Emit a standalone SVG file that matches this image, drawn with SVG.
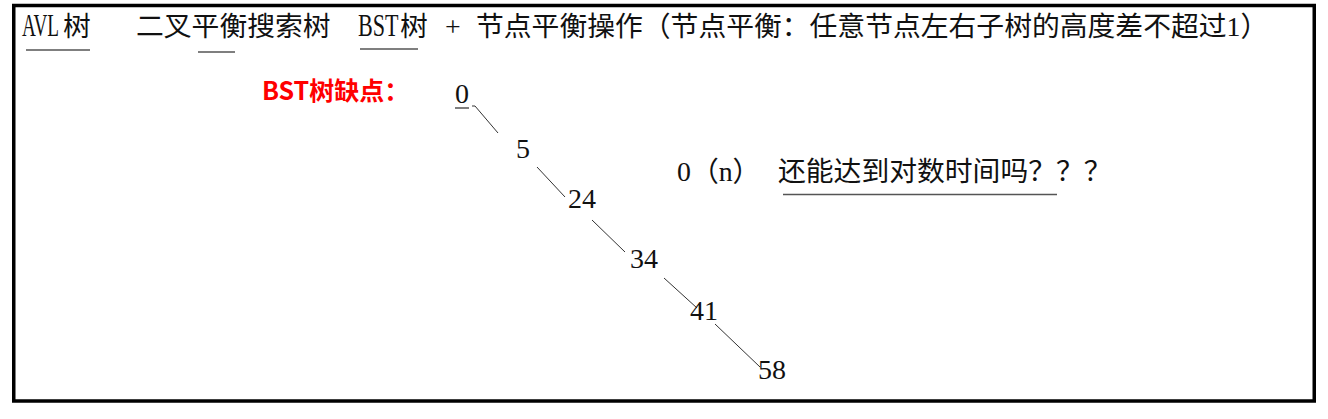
<svg xmlns="http://www.w3.org/2000/svg" width="1328" height="419" viewBox="0 0 1328 419">
<style>
.t{font-family:'Liberation Serif','Noto Sans CJK SC',serif;font-size:27.8px;fill:#111}
.lat{font-family:'Liberation Serif',serif;font-size:32px;fill:#111}
.n{font-family:'Liberation Serif','Noto Sans CJK SC',serif;font-size:28px;fill:#111}
.red{font-family:'Noto Sans CJK SC','Noto Sans',sans-serif;font-size:25px;font-weight:bold;fill:#ff0000}
.ul{stroke:#555;stroke-width:1.5;fill:none}
.edge{stroke:#333;stroke-width:1;fill:none}
</style>
<rect x="0" y="0" width="1328" height="419" fill="#fff"/>
<rect x="13.75" y="5.5" width="1300.5" height="395.5" fill="none" stroke="#000" stroke-width="3.5"/>
<g id="header">
<text class="lat" transform="translate(22,36) scale(0.6,1)">AVL</text>
<text class="t" x="63" y="36">树</text>
<text class="t" x="136" y="36">二叉平衡搜索树</text>
<text class="lat" transform="translate(358,36) scale(0.69,1)">BST</text>
<text class="t" x="400" y="36">树</text>
<text class="t" x="445" y="36">+</text>
<text class="t" x="476" y="36">节点平衡操作（节点平衡：任意节点左右子树的高度差不超过1）</text>
<line class="ul" x1="26" y1="50" x2="90" y2="50"/>
<line class="ul" x1="198" y1="52" x2="235" y2="52"/>
<line class="ul" x1="360" y1="49" x2="418" y2="49"/>
</g>
<g id="label-bst">
<text class="red" x="262" y="100">BST树缺点：</text>
</g>
<g id="question">
<text class="t" x="677" y="181">0（n）</text>
<text class="t" x="778" y="181">还能达到对数时间吗？？？</text>
<line class="ul" x1="783" y1="194.5" x2="1057" y2="194.5"/>
</g>
<g id="connectors">
<polyline class="edge" points="472,106 475,106 498,133"/>
<line class="edge" x1="537" y1="167" x2="565" y2="197"/>
<line class="edge" x1="592" y1="220" x2="625" y2="252"/>
<line class="edge" x1="664" y1="278" x2="697" y2="308"/>
<line class="edge" x1="715" y1="324" x2="760" y2="367"/>
</g>
<g id="node-0"><text class="n" x="455" y="103">0</text><line class="ul" x1="455" y1="108" x2="469" y2="108"/></g>
<g id="node-5"><text class="n" x="516" y="158">5</text></g>
<g id="node-24"><text class="n" x="568" y="208">24</text></g>
<g id="node-34"><text class="n" x="630" y="268">34</text></g>
<g id="node-41"><text class="n" x="690" y="320">41</text></g>
<g id="node-58"><text class="n" x="758" y="379">58</text></g>
</svg>
